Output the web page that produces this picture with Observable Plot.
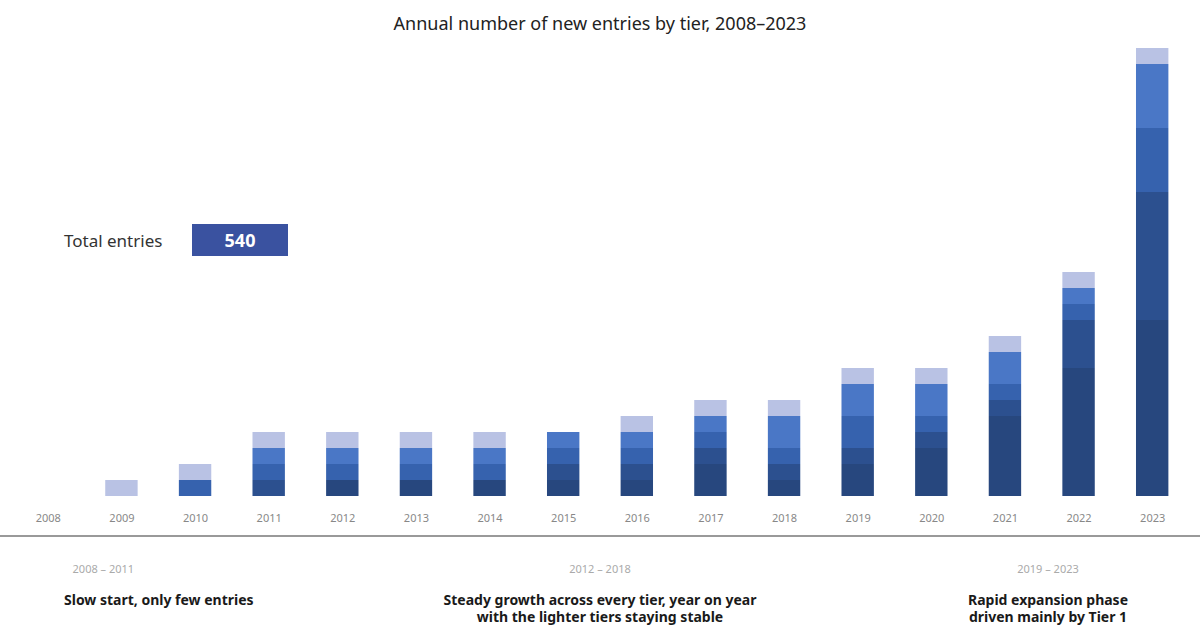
<!DOCTYPE html>
<html><head><meta charset="utf-8">
<script src="https://cdn.jsdelivr.net/npm/d3@7"></script>
<script src="https://cdn.jsdelivr.net/npm/@observablehq/plot@0.6"></script>
<style>
body{margin:0;background:#fff;font-family:"Noto Sans",sans-serif;width:1200px;height:637px;position:relative;overflow:hidden}
#title{position:absolute;top:12px;left:0;width:1200px;text-align:center;font-size:18px;color:#222;line-height:22px}
#chart{position:absolute;top:40px;left:0;z-index:1}
#badge-row{position:absolute;top:224px;left:64px;display:flex;align-items:center;height:32px;z-index:2}
#badge-row .lab{font-size:17px;color:#333;width:128px;white-space:nowrap}
#badge-row .badge{background:#3a52a0;color:#fff;font-weight:bold;font-size:18px;width:96px;height:32px;line-height:32px;text-align:center}
#rule{position:absolute;top:535px;left:0;width:1200px;height:2px;background:#999}
.note{position:absolute;font-size:14px;color:#1a1a1a;line-height:17px;text-align:center;white-space:nowrap}
.note .small{font-size:11px;color:#aaa;line-height:15px}
</style></head>
<body>
<div id="title">Annual number of new entries by tier, 2008–2023</div>
<div id="badge-row"><span class="lab">Total entries</span><span class="badge" id="total"></span></div>
<div id="chart"></div>
<div id="rule"></div>
<div class="note" style="left:64px;top:561px;width:220px;text-align:left"><div class="small">&nbsp;&nbsp;&nbsp;2008 – 2011</div><div class="small">&nbsp;</div><div><b>Slow start, only few entries</b></div></div>
<div class="note" style="left:430px;top:561px;width:340px"><div class="small">2012 – 2018</div><div class="small">&nbsp;</div><div><b>Steady growth across every tier, year on year</b><br><b>with the lighter tiers staying stable</b></div></div>
<div class="note" style="left:944px;top:561px;width:208px"><div class="small">2019 – 2023</div><div class="small">&nbsp;</div><div><b>Rapid expansion phase</b><br><b>driven mainly by Tier 1</b></div></div>
<script>
const years = ["2008","2009","2010","2011","2012","2013","2014","2015","2016","2017","2018","2019","2020","2021","2022","2023"];
const seriesNames = ["Tier 1","Tier 2","Tier 3","Tier 4","Tier 5"];
const tier1 = [0,0,0,0,5,5,5,5,5,10,5,10,15,25,40,55];
const tier2 = [0,0,0,5,0,0,0,5,5,5,5,5,5,5,15,40];
const tier3 = [0,0,5,5,5,5,5,5,5,5,5,10,5,5,5,20];
const tier4 = [0,0,0,5,5,5,5,5,5,5,10,10,10,10,5,20];
const tier5 = [0,5,5,5,5,5,5,0,5,5,5,5,5,5,5,5];
const palette = ["#27477e","#2c508f","#3662ae","#4a77c6","#b9c2e4"];

const seriesValues = [tier1,tier2,tier3,tier4,tier5];
const table = years.flatMap((y,i)=>seriesNames.map((s,j)=>({year:y,series:s,value:seriesValues[j][i]})));
const totals = years.map((y,i)=>d3.sum(seriesValues,v=>v[i]));
document.getElementById("total").textContent = d3.format(",")(d3.sum(totals));

const chart = Plot.plot({
  width:1200, height:488,
  marginTop:8, marginBottom:32, marginLeft:11, marginRight:11,
  style:{fontFamily:"Noto Sans, sans-serif", fontSize:"11px", color:"#888", background:"transparent"},
  x:{domain:years, paddingInner:0.56, paddingOuter:0.28, round:false, label:null, tickSize:0, tickPadding:18},
  y:{axis:null, domain:[0,d3.max(totals)]},
  color:{domain:seriesNames, range:palette},
  marks:[
    Plot.barY(table,{x:"year",y:"value",fill:"series"})
  ]
});
document.getElementById("chart").append(chart);
</script>
</body></html>
